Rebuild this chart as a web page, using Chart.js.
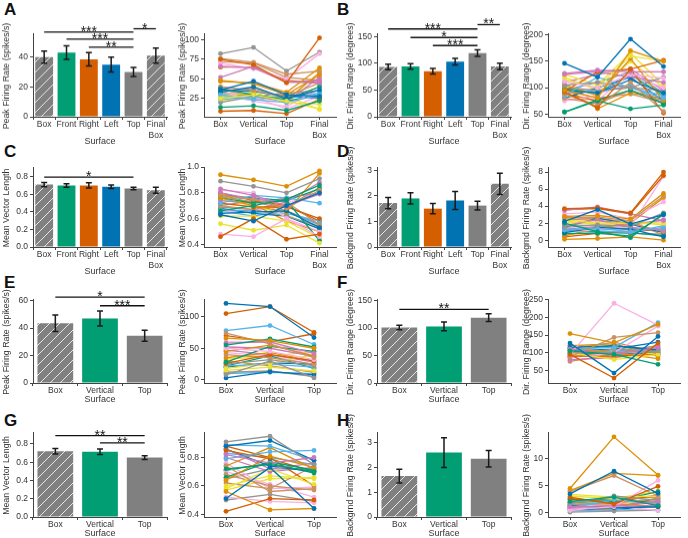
<!DOCTYPE html>
<html>
<head>
<meta charset="utf-8">
<script src="https://cdn.jsdelivr.net/npm/chart.js@4"></script>
<style>
  body { margin: 0; background: #fff; }
  #fig { position: relative; width: 688px; height: 538px; overflow: hidden; background: #fff; }
  #fig canvas { position: absolute; }
  .lbl { position: absolute; font: bold 17px Arial, "Liberation Sans", sans-serif; color: #111; }
</style>
</head>
<body>
<div id="fig">
  <div class="lbl" style="left:4px;top:0px">A</div>
  <div class="lbl" style="left:337px;top:0px">B</div>
  <div class="lbl" style="left:4px;top:142px">C</div>
  <div class="lbl" style="left:337px;top:142px">D</div>
  <div class="lbl" style="left:4px;top:273px">E</div>
  <div class="lbl" style="left:337px;top:273px">F</div>
  <div class="lbl" style="left:4px;top:411px">G</div>
  <div class="lbl" style="left:337px;top:411px">H</div>
</div>
<script>
// Kategorien
const barCats6 = ['Box', 'Front', 'Right', 'Left', 'Top', ['Final', 'Box']];
const lineCats4 = ['Box', 'Vertical', 'Top', ['Final', 'Box']];
const cats3 = ['Box', 'Vertical', 'Top'];

// Balken: Mittelwerte und Fehler (SEM)
const barA = [40, 43, 38.5, 35, 30, 41];
const errA = [4, 4.5, 4.5, 5, 3, 5];
const barB = [93, 94, 85, 103, 119, 94];
const errB = [5, 5, 5, 6, 6, 6];
const barC = [0.71, 0.70, 0.70, 0.685, 0.665, 0.645];
const errC = [0.025, 0.02, 0.03, 0.02, 0.015, 0.035];
const barD = [1.72, 1.9, 1.5, 1.82, 1.62, 2.47];
const errD = [0.22, 0.22, 0.2, 0.35, 0.17, 0.42];
const barE = [43.5, 47, 34.5];
const errE = [6, 5.5, 4];
const barF = [101, 103, 119];
const errF = [4, 8, 7];
const barG = [0.72, 0.715, 0.65];
const errG = [0.03, 0.03, 0.02];
const barH = [1.65, 2.6, 2.35];
const errH = [0.28, 0.6, 0.33];

// Signifikanz: [von, bis, Höhe, Sterne]
const sigA = [[0, 4, 56.8, '***'], [1, 4, 52.1, '***'], [2, 4, 46.7, '**'], [4, 5, 59, '*']];
const sigB = [[0, 4, 164, '***'], [1, 4, 148, '*'], [2, 4, 133, '***'], [4, 5, 172, '**']];
const sigC = [[0, 4, 0.795, '*']];
const sigE = [[0, 2, 62.5, '*'], [1, 2, 56.3, '***']];
const sigF = [[0, 2, 134, '**']];
const sigG = [[0, 2, 0.89, '**'], [1, 2, 0.81, '**']];

// Einzelne Zellen (Linien)
const lineA = [
  [36, 47, 30, 28], [47, 45, 33, 64], [14, 16, 10, 22], [75, 68, 45, 102], [66, 64, 46, 45],
  [76, 71, 56, 60], [70, 63, 50, 82], [82, 90, 60, 84], [25, 30, 22, 12], [30, 24, 20, 30],
  [33, 40, 25, 36], [48, 44, 30, 55], [38, 30, 24, 40], [9, 10, 6, 24], [52, 66, 46, 48],
  [40, 35, 28, 45], [35, 22, 15, 38], [34, 38, 25, 40], [28, 33, 20, 18], [24, 27, 26, 32],
  [36, 34, 28, 26], [33, 28, 23, 58], [30, 30, 22, 30], [65, 65, 48, 45], [37, 28, 21, 52],
  [72, 70, 52, 48], [40, 27, 12, 28], [20, 28, 32, 35], [22, 26, 28, 11], [28, 23, 30, 25]
];
const lineB = [
  [146, 120, 192, 140], [95, 80, 170, 150], [54, 75, 60, 67], [92, 62, 135, 152], [127, 133, 130, 130],
  [88, 65, 110, 55], [112, 100, 125, 118], [105, 110, 100, 120], [115, 100, 160, 150], [85, 120, 100, 80],
  [95, 90, 115, 90], [105, 85, 155, 75], [54, 77, 95, 70], [93, 130, 135, 52], [125, 130, 120, 110],
  [80, 70, 95, 75], [75, 85, 125, 100], [100, 95, 100, 95], [125, 105, 165, 105], [90, 95, 100, 85],
  [80, 100, 120, 75], [100, 60, 90, 80], [98, 90, 125, 85], [88, 75, 95, 70], [110, 125, 135, 95],
  [97, 80, 88, 72], [90, 75, 130, 130], [95, 110, 130, 90], [120, 95, 150, 100], [100, 90, 105, 70]
];
const lineC = [
  [0.63, 0.58, 0.70, 0.80], [0.94, 0.90, 0.85, 0.97], [0.66, 0.70, 0.75, 0.86], [0.46, 0.60, 0.44, 0.48], [0.83, 0.78, 0.70, 0.79],
  [0.78, 0.75, 0.68, 0.82], [0.48, 0.46, 0.60, 0.46], [0.89, 0.85, 0.80, 0.91], [0.56, 0.51, 0.55, 0.41], [0.72, 0.78, 0.76, 0.72],
  [0.64, 0.65, 0.66, 0.53], [0.76, 0.70, 0.65, 0.95], [0.76, 0.72, 0.74, 0.43], [0.72, 0.69, 0.69, 0.60], [0.80, 0.75, 0.73, 0.88],
  [0.70, 0.67, 0.73, 0.55], [0.82, 0.80, 0.60, 0.50], [0.69, 0.67, 0.62, 0.54], [0.62, 0.62, 0.58, 0.45], [0.67, 0.66, 0.64, 0.58],
  [0.68, 0.64, 0.62, 0.52], [0.79, 0.71, 0.58, 0.50], [0.78, 0.76, 0.74, 0.83], [0.80, 0.74, 0.70, 0.58], [0.74, 0.72, 0.76, 0.80],
  [0.77, 0.73, 0.69, 0.84], [0.65, 0.66, 0.72, 0.80], [0.70, 0.74, 0.66, 0.56], [0.75, 0.70, 0.63, 0.52], [0.66, 0.62, 0.66, 0.55]
];
const lineD = [
  [2.2, 3.6, 1.9, 3.0], [2.8, 2.9, 2.5, 5.5], [2.0, 1.0, 0.3, 3.1], [3.7, 3.8, 3.2, 8.0], [3.5, 3.9, 3.1, 2.3],
  [2.6, 2.7, 2.3, 5.2], [3.1, 3.3, 2.5, 4.5], [1.5, 1.8, 1.6, 3.2], [2.4, 2.0, 2.0, 2.0], [1.2, 1.4, 1.0, 1.5],
  [0.9, 1.5, 1.3, 0.4], [0.1, 0.2, 0.4, 0.0], [0.8, 0.8, 0.5, 3.0], [3.6, 3.7, 3.1, 7.6], [1.7, 2.4, 1.5, 1.2],
  [2.5, 2.3, 2.0, 1.0], [1.0, 1.2, 1.6, 7.5], [1.8, 1.7, 1.2, 1.3], [2.3, 1.8, 2.1, 1.8], [1.3, 1.1, 0.9, 1.7],
  [1.5, 2.6, 1.9, 0.9], [0.5, 1.4, 2.0, 5.0], [1.2, 1.0, 0.9, 0.5], [0.4, 0.8, 1.0, 1.3], [1.3, 1.6, 1.8, 2.4],
  [2.7, 2.5, 2.2, 0.6], [2.9, 2.2, 1.8, 2.2], [0.7, 0.9, 0.8, 0.7], [2.1, 1.9, 1.7, 2.3], [1.0, 1.2, 1.4, 1.0]
];
const lineE = [
  [121, 116, 67], [66, 62, 50], [55, 65, 52], [105, 116, 75], [58, 60, 42],
  [74, 57, 35], [50, 45, 32], [8, 30, 3], [15, 20, 14], [78, 86, 56],
  [3, 13, 8], [45, 55, 38], [28, 53, 45], [26, 40, 30], [52, 50, 37],
  [40, 35, 25], [60, 60, 38], [25, 32, 22], [18, 26, 40], [22, 25, 20],
  [20, 27, 25], [35, 43, 30], [22, 38, 18], [70, 60, 73], [47, 40, 28],
  [30, 22, 12], [43, 38, 24], [12, 14, 5], [33, 37, 45], [10, 12, 10]
];
const lineF = [
  [127, 42, 146], [154, 128, 180], [105, 95, 67], [95, 28, 127], [110, 95, 115],
  [88, 143, 157], [95, 240, 178], [100, 100, 105], [100, 80, 95], [110, 115, 185],
  [115, 120, 108], [112, 100, 83], [108, 120, 105], [90, 90, 95], [80, 85, 110],
  [75, 95, 120], [85, 100, 175], [95, 110, 100], [92, 85, 100], [100, 105, 110],
  [105, 110, 130], [120, 125, 90], [100, 95, 100], [85, 110, 95], [90, 100, 110],
  [110, 130, 100], [78, 90, 115], [120, 115, 98], [105, 88, 105], [98, 102, 120]
];
const lineG = [
  [0.51, 0.73, 0.44], [0.56, 0.43, 0.44], [0.72, 0.75, 0.70], [0.42, 0.51, 0.50], [0.82, 0.76, 0.80],
  [0.74, 0.56, 0.58], [0.52, 0.49, 0.48], [0.91, 0.95, 0.75], [0.58, 0.72, 0.61], [0.79, 0.84, 0.85],
  [0.88, 0.92, 0.78], [0.64, 0.81, 0.73], [0.66, 0.77, 0.71], [0.85, 0.79, 0.70], [0.86, 0.72, 0.76],
  [0.68, 0.60, 0.57], [0.70, 0.61, 0.52], [0.50, 0.54, 0.49], [0.60, 0.67, 0.65], [0.89, 0.88, 0.78],
  [0.86, 0.74, 0.70], [0.74, 0.87, 0.72], [0.71, 0.76, 0.69], [0.88, 0.80, 0.60], [0.80, 0.70, 0.73],
  [0.62, 0.58, 0.74], [0.76, 0.58, 0.59], [0.65, 0.72, 0.72], [0.57, 0.65, 0.66], [0.83, 0.80, 0.75]
];
const lineH = [
  [3.4, 7.6, 3.5], [4.4, 14.0, 6.9], [2.0, 2.8, 1.2], [2.8, 1.5, 4.8], [1.0, 1.2, 2.0],
  [3.8, 6.8, 3.0], [0.5, 1.0, 5.9], [1.6, 3.0, 2.2], [3.3, 2.8, 3.0], [0.8, 2.3, 1.5],
  [1.2, 0.8, 1.0], [4.0, 7.2, 6.8], [1.8, 2.0, 3.8], [2.5, 1.8, 3.2], [0.7, 0.9, 1.3],
  [1.5, 1.7, 2.5], [0.3, 1.2, 0.3], [0.0, 0.2, 0.4], [3.0, 2.5, 3.9], [0.2, 0.5, 0.3],
  [0.6, 0.4, 1.4], [1.0, 1.1, 1.8], [2.4, 2.2, 1.8], [0.4, 0.8, 2.6], [1.4, 1.6, 1.0],
  [2.0, 2.5, 2.8], [1.1, 1.8, 2.2], [0.9, 1.2, 0.9], [1.7, 1.4, 2.4], [1.3, 0.7, 1.1]
];

// Achsen-Ticks
const ticksA = [0, 20, 40], ticksALine = [25, 50, 75, 100];
const ticksB = [0, 50, 100, 150], ticksBLine = [50, 100, 150, 200];
const ticksC = [0, 0.2, 0.4, 0.6, 0.8], ticksCLine = [0.4, 0.6, 0.8, 1.0];
const ticksD = [0, 1, 2, 3], ticksDLine = [0, 2, 4, 6, 8];
const ticksE = [0, 20, 40, 60], ticksELine = [0, 50, 100];
const ticksF = [0, 50, 100, 150], ticksFLine = [50, 100, 150, 200, 250];
const ticksG = [0, 0.2, 0.4, 0.6, 0.8], ticksGLine = [0.4, 0.6, 0.8];
const ticksH = [0, 1, 2, 3], ticksHLine = [0, 5, 10];

// Farben (seaborn colorblind)
const palette = ['#0173b2', '#de8f05', '#029e73', '#d55e00', '#cc78bc', '#ca9161', '#fbafe4', '#949494', '#ece133', '#56b4e9'];
const GRAY = '#808080', GREEN = '#029e73', ORANGE = '#d55e00', BLUE = '#0173b2';
const AX = '#444', TX = '#333';
const FONT = 'Arial, "Liberation Sans", sans-serif';

Chart.defaults.font.family = FONT;
Chart.defaults.font.size = 8.5;
Chart.defaults.color = TX;

const PADT = 24, PADR = 8;

// Schraffur für die Box-Balken
function hatch() {
  const c = document.createElement('canvas');
  c.width = c.height = 10;
  const g = c.getContext('2d');
  g.fillStyle = GRAY;
  g.fillRect(0, 0, 10, 10);
  g.strokeStyle = 'rgba(255,255,255,0.8)';
  g.lineWidth = 1;
  g.beginPath();
  g.moveTo(0, 10); g.lineTo(10, 0);
  g.moveTo(-2, 2); g.lineTo(2, -2);
  g.moveTo(8, 12); g.lineTo(12, 8);
  g.stroke();
  return g.createPattern(c, 'repeat');
}

// Fehlerbalken
const errPlugin = {
  id: 'errbars',
  afterDatasetsDraw(chart, args, opts) {
    if (!opts.err) return;
    const ctx = chart.ctx, y = chart.scales.y;
    const vals = chart.data.datasets[0].data;
    ctx.save();
    ctx.strokeStyle = '#1a1a1a';
    ctx.lineWidth = 1.5;
    chart.getDatasetMeta(0).data.forEach((bar, i) => {
      const top = y.getPixelForValue(vals[i] + opts.err[i]);
      const bot = y.getPixelForValue(vals[i] - opts.err[i]);
      ctx.beginPath();
      ctx.moveTo(bar.x, top); ctx.lineTo(bar.x, bot);
      ctx.moveTo(bar.x - 3, top); ctx.lineTo(bar.x + 3, top);
      ctx.moveTo(bar.x - 3, bot); ctx.lineTo(bar.x + 3, bot);
      ctx.stroke();
    });
    ctx.restore();
  }
};

// Signifikanz-Linien mit Sternen
const sigPlugin = {
  id: 'sig',
  afterDraw(chart, args, opts) {
    if (!opts.lines) return;
    const ctx = chart.ctx, x = chart.scales.x, y = chart.scales.y;
    ctx.save();
    ctx.strokeStyle = '#111';
    ctx.fillStyle = '#111';
    ctx.lineWidth = 1.3;
    ctx.font = '14px ' + FONT;
    ctx.textAlign = 'center';
    ctx.textBaseline = 'alphabetic';
    opts.lines.forEach(s => {
      const x0 = x.getPixelForValue(s[0]), x1 = x.getPixelForValue(s[1]);
      const yy = y.getPixelForValue(s[2]);
      ctx.beginPath();
      ctx.moveTo(x0, yy); ctx.lineTo(x1, yy);
      ctx.stroke();
      ctx.fillText(s[3], (x0 + x1) / 2, yy + 4);
    });
    ctx.restore();
  }
};

// Y-Achsentitel selbst zeichnen (Chart.js staucht lange Titel)
const yTitlePlugin = {
  id: 'ytitle',
  afterDraw(chart, args, opts) {
    if (!opts.text) return;
    const ctx = chart.ctx, a = chart.chartArea;
    ctx.save();
    ctx.translate(opts.x, (a.top + a.bottom) / 2 + 1);
    ctx.rotate(-Math.PI / 2);
    ctx.font = '8.8px ' + FONT;
    ctx.fillStyle = TX;
    ctx.textAlign = 'center';
    ctx.textBaseline = 'middle';
    ctx.fillText(opts.text, 0, 0);
    ctx.restore();
  }
};

// Canvas an die richtige Stelle setzen
function place(box) {
  const c = document.createElement('canvas');
  const w = box.x1 - box.x0 + box.pl + PADR;
  const h = box.y1 - box.y0 + PADT + box.pb;
  c.width = w; c.height = h;
  c.style.width = w + 'px'; c.style.height = h + 'px';
  c.style.left = (box.x0 - box.pl) + 'px';
  c.style.top = (box.y0 - PADT) + 'px';
  document.getElementById('fig').appendChild(c);
  return c;
}

function axes(box, yr, yTicks, dec) {
  return {
    x: {
      type: 'category',
      offset: true,
      grid: { drawOnChartArea: false, tickLength: 3, color: AX },
      border: { color: AX },
      ticks: { padding: 0, maxRotation: 0, autoSkip: false, color: TX },
      title: { display: true, text: 'Surface', font: { size: 9 }, padding: { top: 0, bottom: 4 } },
      afterFit: s => { s.height = box.pb; }
    },
    y: {
      min: yr[0],
      max: yr[1],
      grid: { drawOnChartArea: false, tickLength: 3, color: AX },
      border: { color: AX },
      ticks: { padding: 2, color: TX, callback: v => v.toFixed(dec) },
      afterBuildTicks: s => { s.ticks = yTicks.map(v => ({ value: v })); },
      afterFit: s => { s.width = box.pl; }
    }
  };
}

function baseOptions(box, yr, yTicks, dec, yTitle) {
  return {
    responsive: false,
    animation: false,
    devicePixelRatio: 1,
    layout: { padding: { top: PADT, right: PADR, left: 0, bottom: 0 } },
    plugins: {
      legend: { display: false },
      tooltip: { enabled: false },
      ytitle: { text: yTitle, x: box.pl - box.td }
    },
    scales: axes(box, yr, yTicks, dec)
  };
}

function barChart(box, labels, vals, err, sig, yr, yTicks, dec, yTitle) {
  const colors = labels.length === 6
    ? [hatch(), GREEN, ORANGE, BLUE, GRAY, hatch()]
    : [hatch(), GREEN, GRAY];
  const opts = baseOptions(box, yr, yTicks, dec, yTitle);
  opts.plugins.errbars = { err: err };
  opts.plugins.sig = { lines: sig };
  new Chart(place(box), {
    type: 'bar',
    data: { labels: labels, datasets: [{ data: vals, backgroundColor: colors, barPercentage: 0.8, categoryPercentage: 1 }] },
    options: opts,
    plugins: [errPlugin, sigPlugin, yTitlePlugin]
  });
}

function lineChart(box, labels, series, yr, yTicks, dec, yTitle) {
  new Chart(place(box), {
    type: 'line',
    data: {
      labels: labels,
      datasets: series.map((vals, i) => ({
        data: vals,
        borderColor: palette[i % 10],
        backgroundColor: palette[i % 10],
        borderWidth: 1.3,
        pointRadius: 2.4,
        pointBorderWidth: 0
      }))
    },
    options: baseOptions(box, yr, yTicks, dec, yTitle),
    plugins: [yTitlePlugin]
  });
}

// Position der Plotflächen im Bild (td = Abstand des Achsentitels zur Achse)
const row1 = { y0: 33, y1: 116.5, pb: 34 };
const row2 = { y0: 167, y1: 247, pb: 34 };
const row3 = { y0: 299, y1: 383, pb: 26 };
const row4 = { y0: 432, y1: 517, pb: 26 };
const colBarL = { x0: 33, x1: 167, pl: 35, td: 26 };
const colLineL = { x0: 204, x1: 336, pl: 30, td: 21 };
const colBarR = { x0: 377, x1: 511, pl: 34, td: 26 };
const colLineR = { x0: 548, x1: 680, pl: 31, td: 21 };
const at = (col, row) => Object.assign({}, col, row);

const tPeak = 'Peak Firing Rate (spikes/s)';
const tDir = 'Dir. Firing Range (degrees)';
const tMvl = 'Mean Vector Length';
const tBg = 'Backgrnd Firing Rate (spikes/s)';

barChart(at(colBarL, row1), barCats6, barA, errA, sigA, [0, 56], ticksA, 0, tPeak);
lineChart(at(colLineL, row1), lineCats4, lineA, [2, 108], ticksALine, 0, tPeak);
barChart(at(colBarR, row1), barCats6, barB, errB, sigB, [0, 156], ticksB, 0, tDir);
lineChart(at(colLineR, row1), lineCats4, lineB, [45, 203], ticksBLine, 0, tDir);

barChart(at(colBarL, row2), barCats6, barC, errC, sigC, [0, 0.91], ticksC, 1, tMvl);
lineChart(at(colLineL, row2), lineCats4, lineC, [0.38, 1.0], ticksCLine, 1, tMvl);
barChart(at(colBarR, row2), barCats6, barD, errD, [], [0, 3.13], ticksD, 0, tBg);
lineChart(at(colLineR, row2), lineCats4, lineD, [-0.8, 8.6], ticksDLine, 0, tBg);

barChart(at(colBarL, row3), cats3, barE, errE, sigE, [0, 61.2], ticksE, 0, tPeak);
lineChart(at(colLineL, row3), cats3, lineE, [-5, 128], ticksELine, 0, tPeak);
barChart(at(colBarR, row3), cats3, barF, errF, sigF, [0, 153], ticksF, 0, tDir);
lineChart(at(colLineR, row3), cats3, lineF, [14, 252], ticksFLine, 0, tDir);

barChart(at(colBarL, row4), cats3, barG, errG, sigG, [0, 0.93], ticksG, 1, tMvl);
lineChart(at(colLineL, row4), cats3, lineG, [0.38, 0.98], ticksGLine, 1, tMvl);
barChart(at(colBarR, row4), cats3, barH, errH, [], [0, 3.43], ticksH, 0, tBg);
lineChart(at(colLineR, row4), cats3, lineH, [-0.9, 14.9], ticksHLine, 0, tBg);
</script>
</body>
</html>
